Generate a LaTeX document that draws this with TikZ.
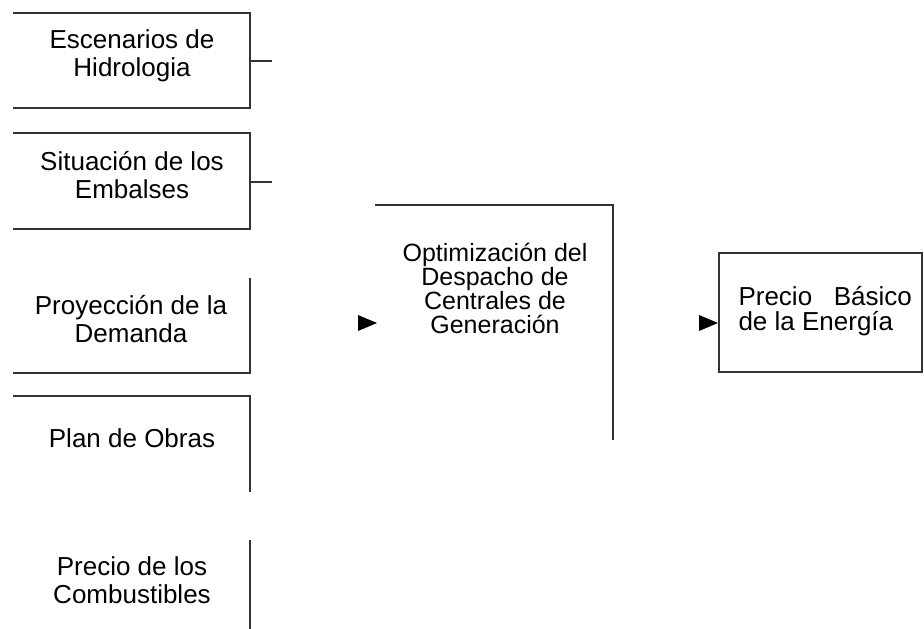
\documentclass[tikz,border=0pt]{standalone}
\usepackage{fontspec}
\setmainfont{Liberation Sans}
\tikzstyle{marco} = [line width=1.6pt, draw=black!80]
\tikzstyle{entrada} = [align=center, font=\fontsize{26}{28}\selectfont]
\tikzstyle{proceso} = [align=center, font=\fontsize{25}{24}\selectfont]
\tikzstyle{salida} = [align=left, font=\fontsize{26}{25}\selectfont]
\newcommand{\punta}[1]{\fill[black] (#1) -- ++(-19,-8) -- ++(0,16) -- cycle;}

\begin{document}
\begin{tikzpicture}[x=1pt,y=-1pt]
\useasboundingbox (0,0) rectangle (924,629);
% datos de entrada
\node[entrada] (esc) at (132,56) {Escenarios de\\Hidrologia};
\node[entrada] (sit) at (132,175) {Situación de los\\Embalses};
\node[entrada] (pro) at (131,319) {Proyección de la\\Demanda};
\node[entrada] (pla) at (132,438) {Plan de Obras};
\node[entrada] (com) at (132,580) {Precio de los\\Combustibles};
% proceso y resultado
\node[proceso] (opt) at (495,288) {Optimización del\\Despacho de\\Centrales de\\Generación};
\node[salida, anchor=west] (pbe) at (735,311) {Precio\ \ \ Básico\\de la Energía};
% lo que queda de los marcos
\draw[marco] (13,13) -- (250,13) -- (250,108) -- (13,108);
\draw[marco] (250,61) -- (272,61);
\draw[marco] (13,133) -- (250,133) -- (250,229) -- (13,229);
\draw[marco] (250,182) -- (272,182);
\draw[marco] (250,278) -- (250,373) -- (13,373);
\draw[marco] (13,396) -- (250,396) -- (250,492);
\draw[marco] (250,540) -- (250,629);
\draw[marco] (375,205) -- (613,205) -- (613,440);
\draw[marco] (719,253) rectangle (922,372);
% puntas de flecha
\coordinate (aOpt) at (377,323);
\coordinate (aPbe) at (718,323);
\punta{aOpt}
\punta{aPbe}
\end{tikzpicture}
\end{document}
